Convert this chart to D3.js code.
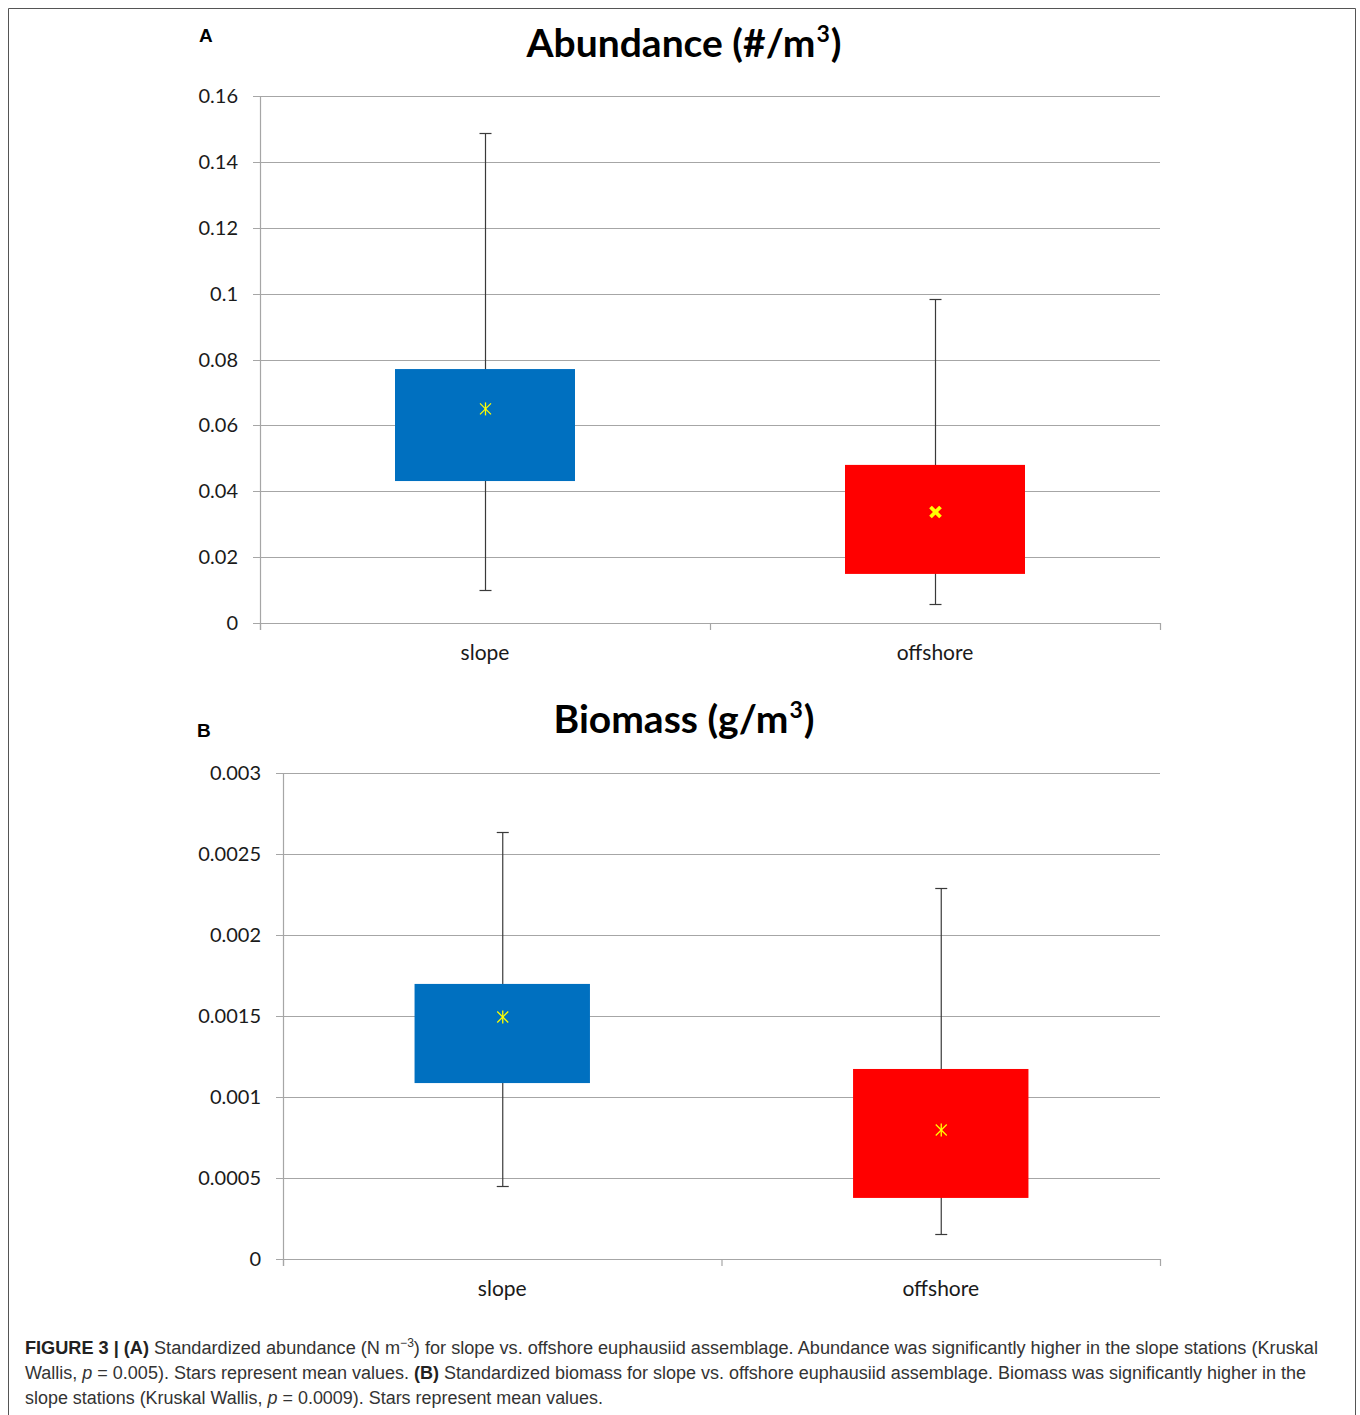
<!DOCTYPE html>
<html>
<head>
<meta charset="utf-8">
<script src="https://cdn.jsdelivr.net/npm/d3@7"></script>
<style>
  html, body { margin: 0; padding: 0; background: #fff; }
  svg { display: block; }
</style>
</head>
<body>
<svg id="fig" width="1360" height="1415"></svg>
<script>
// Sites compared in both panels
const categories = ["slope", "offshore"];

// Panel A: abundance (#/m3)
const abundanceMin  = [0.0100, 0.0058];
const abundanceQ1   = [0.0431, 0.0149];
const abundanceQ3   = [0.0771, 0.0480];
const abundanceMax  = [0.1488, 0.0984];
const abundanceMean = [0.0650, 0.0337];
const abundanceTicks = [0, 0.02, 0.04, 0.06, 0.08, 0.1, 0.12, 0.14, 0.16];

// Panel B: biomass (g/m3)
const biomassMin  = [0.000451, 0.000154];
const biomassQ1   = [0.001086, 0.000377];
const biomassQ3   = [0.001698, 0.001173];
const biomassMax  = [0.002636, 0.002290];
const biomassMean = [0.001494, 0.000796];
const biomassTicks = [0, 0.0005, 0.001, 0.0015, 0.002, 0.0025, 0.003];

const boxColors = ["#0070C0", "#FF0000"];

const svg = d3.select("#fig");

// figure frame
svg.append("path")
  .attr("d", "M8.5,1415 V8.5 H1355.5 V1415")
  .attr("fill", "none").attr("stroke", "#555").attr("stroke-width", 1);

function boxPanel(opt) {
  const g = svg.append("g");
  const x = d3.scaleBand().domain(categories).range([opt.left, opt.right]).paddingInner(0).paddingOuter(0);
  const y = d3.scaleLinear().domain([0, opt.ymax]).range([opt.bottom, opt.top]);
  const boxW = x.bandwidth() * 0.4;

  // gridlines with short outward tick marks
  g.selectAll("line.grid").data(opt.ticks).join("line")
    .attr("x1", opt.left - 7).attr("x2", opt.right)
    .attr("y1", d => Math.round(y(d)) + 0.5).attr("y2", d => Math.round(y(d)) + 0.5)
    .attr("stroke", "#a6a6a6").attr("stroke-width", 1.2);

  // value axis line
  g.append("line")
    .attr("x1", opt.left + 0.5).attr("x2", opt.left + 0.5)
    .attr("y1", opt.top).attr("y2", opt.bottom + 7)
    .attr("stroke", "#a6a6a6").attr("stroke-width", 1.2);

  // category dividers under the baseline
  const edges = [opt.left, opt.left + x.bandwidth(), opt.right];
  g.selectAll("line.cat").data(edges).join("line")
    .attr("x1", d => d + 0.5).attr("x2", d => d + 0.5)
    .attr("y1", opt.bottom).attr("y2", opt.bottom + 7)
    .attr("stroke", "#a6a6a6").attr("stroke-width", 1.2);

  // tick labels
  g.selectAll("text.tick").data(opt.ticks).join("text")
    .attr("x", opt.left - 22).attr("y", d => y(d))
    .attr("dy", "0.35em").attr("text-anchor", "end")
    .attr("font-family", "Lato, 'Open Sans', sans-serif").attr("font-size", 20).attr("fill", "#1a1a1a")
    .text(d => opt.fmt(d));

  // category labels
  g.selectAll("text.cat").data(categories).join("text")
    .attr("x", d => x(d) + x.bandwidth() / 2).attr("y", opt.bottom + 30)
    .attr("dy", "0.35em").attr("text-anchor", "middle")
    .attr("font-family", "Lato, 'Open Sans', sans-serif").attr("font-size", 21).attr("fill", "#1a1a1a")
    .text(d => d);

  const idx = categories.map((c, i) => i);

  // whiskers
  g.selectAll("line.wh").data(idx).join("line")
    .attr("x1", i => x(categories[i]) + x.bandwidth() / 2 + 0.5)
    .attr("x2", i => x(categories[i]) + x.bandwidth() / 2 + 0.5)
    .attr("y1", i => y(opt.max[i])).attr("y2", i => y(opt.min[i]))
    .attr("stroke", "#3a3a3a").attr("stroke-width", 1.2);
  [opt.max, opt.min].forEach(arr => {
    g.selectAll(null).data(idx).join("line")
      .attr("x1", i => x(categories[i]) + x.bandwidth() / 2 - 5.5)
      .attr("x2", i => x(categories[i]) + x.bandwidth() / 2 + 6.5)
      .attr("y1", i => Math.round(y(arr[i])) + 0.5).attr("y2", i => Math.round(y(arr[i])) + 0.5)
      .attr("stroke", "#3a3a3a").attr("stroke-width", 1.2);
  });

  // interquartile boxes
  g.selectAll("rect.box").data(idx).join("rect")
    .attr("x", i => x(categories[i]) + (x.bandwidth() - boxW) / 2)
    .attr("width", boxW)
    .attr("y", i => y(opt.q3[i]))
    .attr("height", i => y(opt.q1[i]) - y(opt.q3[i]))
    .attr("fill", i => boxColors[i]);

  // mean stars
  idx.forEach(i => {
    const cx = x(categories[i]) + x.bandwidth() / 2 + 0.5;
    const cy = y(opt.mean[i]);
    const bold = opt.boldStar && opt.boldStar[i];
    const s = bold ? 5 : 5.5;
    const star = g.append("g").attr("stroke", "#FFFF00")
      .attr("stroke-width", bold ? 3.8 : 1.3).attr("fill", "none");
    star.append("line").attr("x1", cx - s).attr("y1", cy - s).attr("x2", cx + s).attr("y2", cy + s);
    star.append("line").attr("x1", cx - s).attr("y1", cy + s).attr("x2", cx + s).attr("y2", cy - s);
    if (!bold) {
      star.append("line").attr("x1", cx).attr("y1", cy - s - 1).attr("x2", cx).attr("y2", cy + s + 1);
    }
  });

  // panel title with superscript
  const t = svg.append("text")
    .attr("x", opt.titleX).attr("y", opt.titleY).attr("text-anchor", "middle")
    .attr("font-family", "Lato, 'Open Sans', sans-serif").attr("font-weight", "bold")
    .attr("font-size", 39).attr("fill", "#000");
  t.append("tspan").text(opt.title);
  t.append("tspan").attr("font-size", 23).attr("dy", -15).attr("dx", 1).text("3");
  t.append("tspan").attr("dy", 15).attr("dx", 1).text(")");

  svg.append("text")
    .attr("x", opt.letterX).attr("y", opt.letterY)
    .attr("font-family", "'Liberation Sans', Arial, sans-serif").attr("font-weight", "bold")
    .attr("font-size", 19).attr("fill", "#000")
    .text(opt.letter);
}

boxPanel({
  left: 260, right: 1160, top: 96, bottom: 623, ymax: 0.16,
  ticks: abundanceTicks, fmt: d => d === 0 ? "0" : String(+d.toFixed(2)),
  min: abundanceMin, q1: abundanceQ1, q3: abundanceQ3, max: abundanceMax, mean: abundanceMean,
  boldStar: [false, true],
  title: "Abundance (#/m", titleX: 684, titleY: 57,
  letter: "A", letterX: 199, letterY: 42
});

boxPanel({
  left: 283, right: 1160, top: 773, bottom: 1259, ymax: 0.003,
  ticks: biomassTicks, fmt: d => d === 0 ? "0" : String(+d.toFixed(4)),
  min: biomassMin, q1: biomassQ1, q3: biomassQ3, max: biomassMax, mean: biomassMean,
  boldStar: [false, false],
  title: "Biomass (g/m", titleX: 684, titleY: 733,
  letter: "B", letterX: 197, letterY: 737
});

// caption
const capLines = [
  [["b", "FIGURE 3 | (A)"], ["r", " Standardized abundance (N m"], ["sup", "\u22123"], ["r", ") for slope vs. offshore euphausiid assemblage. Abundance was significantly higher in the slope stations (Kruskal"]],
  [["r", "Wallis, "], ["i", "p"], ["r", " = 0.005). Stars represent mean values. "], ["b", "(B)"], ["r", " Standardized biomass for slope vs. offshore euphausiid assemblage. Biomass was significantly higher in the"]],
  [["r", "slope stations (Kruskal Wallis, "], ["i", "p"], ["r", " = 0.0009). Stars represent mean values."]]
];
const capWidths = [1293, 1281, 578];
capLines.forEach((line, li) => {
  const t = svg.append("text")
    .attr("x", 25).attr("y", 1354 + li * 25)
    .attr("font-family", "'Liberation Sans', Arial, sans-serif")
    .attr("font-size", 18).attr("fill", "#333")
    .attr("textLength", capWidths[li]).attr("lengthAdjust", "spacingAndGlyphs");
  line.forEach(([k, s]) => {
    const ts = t.append("tspan").text(s);
    if (k === "b") ts.attr("font-weight", "bold").attr("fill", "#222");
    if (k === "i") ts.attr("font-style", "italic");
    if (k === "sup") { ts.attr("font-size", 12).attr("dy", -7); }
    if (k === "r" && li === 0 && s.startsWith(")")) ts.attr("dy", 7);
  });
});
</script>
</body>
</html>
